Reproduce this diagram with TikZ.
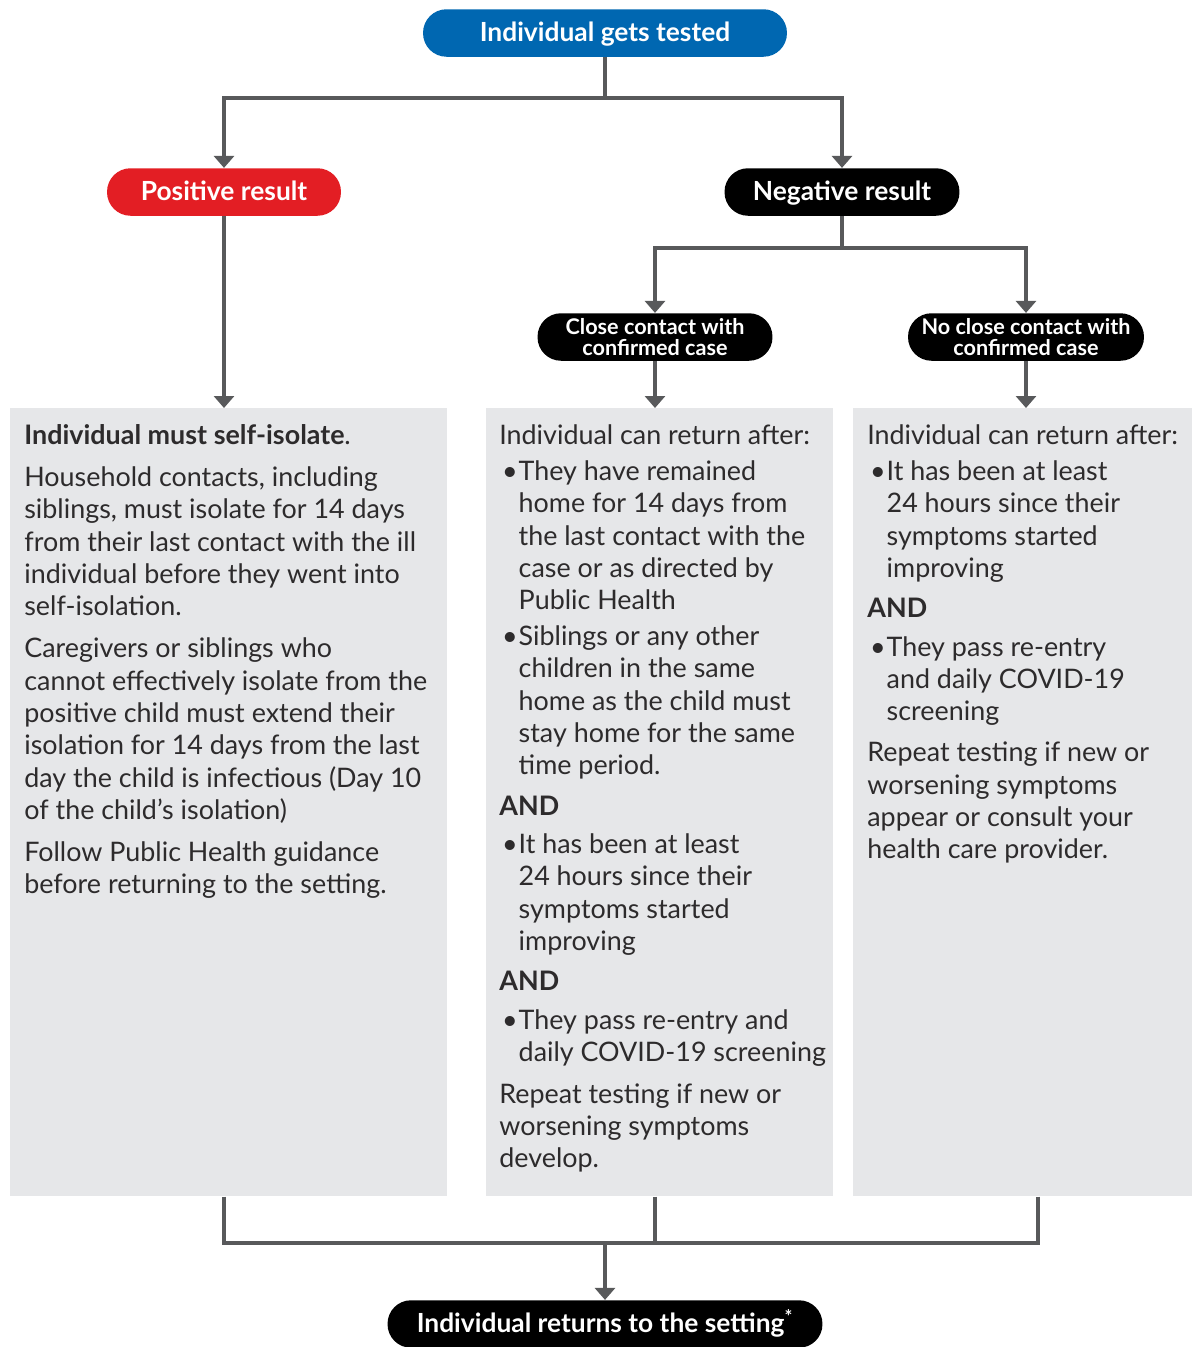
\documentclass[tikz,border=0pt]{standalone}
\usepackage{fontspec}
\setmainfont{Lato}
\usepackage{tikz}
\usetikzlibrary{arrows.meta, positioning, calc}

\definecolor{testblue}{RGB}{0,103,177}
\definecolor{posred}{RGB}{227,30,36}
\definecolor{boxgray}{RGB}{230,231,233}
\definecolor{linegray}{RGB}{88,89,91}
\definecolor{textgray}{RGB}{45,43,44}

\newcommand{\bul}{\makebox[0.72em][l]{\kern0.1em\textbullet}}
\newcommand{\ind}{\hspace*{0.72em}}

\begin{document}
\begin{tikzpicture}[x=0.02cm, y=-0.02cm, >={Triangle[width=0.4cm,length=0.24cm]}]
    % Styles
    \tikzstyle{pill} = [rounded corners=0.47cm, minimum height=0.95cm, text=white, inner sep=0pt, text height=1.14em, text depth=0.2em, font=\bfseries\fontsize{15}{16}\selectfont]
    \tikzstyle{smallpill} = [rounded corners=0.47cm, minimum height=0.95cm, text=white, inner sep=0pt, align=center, font=\bfseries\fontsize{12.3}{12.2}\selectfont]
    \tikzstyle{infobox} = [fill=boxgray, inner sep=0pt, anchor=north west]
    \tikzstyle{boxtext} = [align=left, inner sep=0pt, text=textgray, font=\fontsize{15.3}{18.4}\selectfont]
    \tikzstyle{line} = [draw=linegray, line width=0.08cm]

    \useasboundingbox (0,0) rectangle (1192,1347);

    % Blocks
    \node[pill, fill=testblue, minimum width=7.28cm] (test) at (605,33) {Individual gets tested};
    \node[pill, fill=posred, minimum width=4.68cm] (pos) at (224,192) {Positive result};
    \node[pill, fill=black, minimum width=4.7cm] (neg) at (842,192) {Negative result};
    \node[smallpill, fill=black, minimum width=4.7cm] (close) at (655,337) {Close contact with\\confirmed case};
    \node[smallpill, fill=black, minimum width=4.72cm] (noclose) at (1026,337) {No close contact with\\confirmed case};
    \node[pill, fill=black, minimum width=8.7cm] (back) at (605,1324) {Individual returns to the setting\textsuperscript{*}};

    % Grey boxes
    \node[infobox, minimum width=8.74cm, minimum height=15.76cm] (posbox) at (10,408) {};
    \node[infobox, minimum width=6.94cm, minimum height=15.76cm] (midbox) at (486,408) {};
    \node[infobox, minimum width=6.78cm, minimum height=15.76cm] (rightbox) at (853,408) {};

    % Box texts
    \node[boxtext, below right=0.33cm and 0.28cm of posbox.north west] (postext) {%
        {\bfseries Individual must self-isolate}.\\[5.4pt]
        Household contacts, including\\
        siblings, must isolate for 14 days\\
        from their last contact with the ill\\
        individual before they went into\\
        self-isolation.\\[5.4pt]
        Caregivers or siblings who\\
        cannot effectively isolate from the\\
        positive child must extend their\\
        isolation for 14 days from the last\\
        day the child is infectious (Day 10\\
        of the child’s isolation)\\[5.4pt]
        Follow Public Health guidance\\
        before returning to the setting.};
    \node[boxtext, below right=0.33cm and 0.26cm of midbox.north west] (midtext) {%
        Individual can return after:\\[2pt]
        \bul They have remained\\
        \ind home for 14 days from\\
        \ind the last contact with the\\
        \ind case or as directed by\\
        \ind Public Health\\[2pt]
        \bul Siblings or any other\\
        \ind children in the same\\
        \ind home as the child must\\
        \ind stay home for the same\\
        \ind time period.\\[4.5pt]
        {\bfseries AND}\\[3.4pt]
        \bul It has been at least\\
        \ind 24 hours since their\\
        \ind symptoms started\\
        \ind improving\\[4.5pt]
        {\bfseries AND}\\[3.4pt]
        \bul They pass re-entry and\\
        \ind daily COVID-19 screening\\[5.4pt]
        Repeat testing if new or\\
        worsening symptoms\\
        develop.};
    \node[boxtext, below right=0.33cm and 0.28cm of rightbox.north west] (righttext) {%
        Individual can return after:\\[2pt]
        \bul It has been at least\\
        \ind 24 hours since their\\
        \ind symptoms started\\
        \ind improving\\[4.5pt]
        {\bfseries AND}\\[3.4pt]
        \bul They pass re-entry\\
        \ind and daily COVID-19\\
        \ind screening\\[5pt]
        Repeat testing if new or\\
        worsening symptoms\\
        appear or consult your\\
        health care provider.};

    % Split and merge points
    \coordinate (split) at (605,98);
    \coordinate (negsplit) at (842,248);
    \coordinate (merge) at (605,1243);

    % Lines
    \draw[line] (test) -- (split);
    \draw[line, ->] (split) -| (pos);
    \draw[line, ->] (split) -| (neg);
    \draw[line] (neg) -- (negsplit);
    \draw[line, ->] (negsplit) -| (close);
    \draw[line, ->] (negsplit) -| (noclose);
    \draw[line, ->] (pos) -- (pos |- posbox.north);
    \draw[line, ->] (close) -- (close |- midbox.north);
    \draw[line, ->] (noclose) -- (noclose |- rightbox.north);
    \draw[line] (posbox.south -| pos) |- (merge);
    \draw[line] (midbox.south -| close) |- (merge);
    \draw[line] ([xshift=0.3cm]rightbox.south) |- (merge);
    \draw[line, ->] (merge) -- (back);
\end{tikzpicture}
\end{document}
